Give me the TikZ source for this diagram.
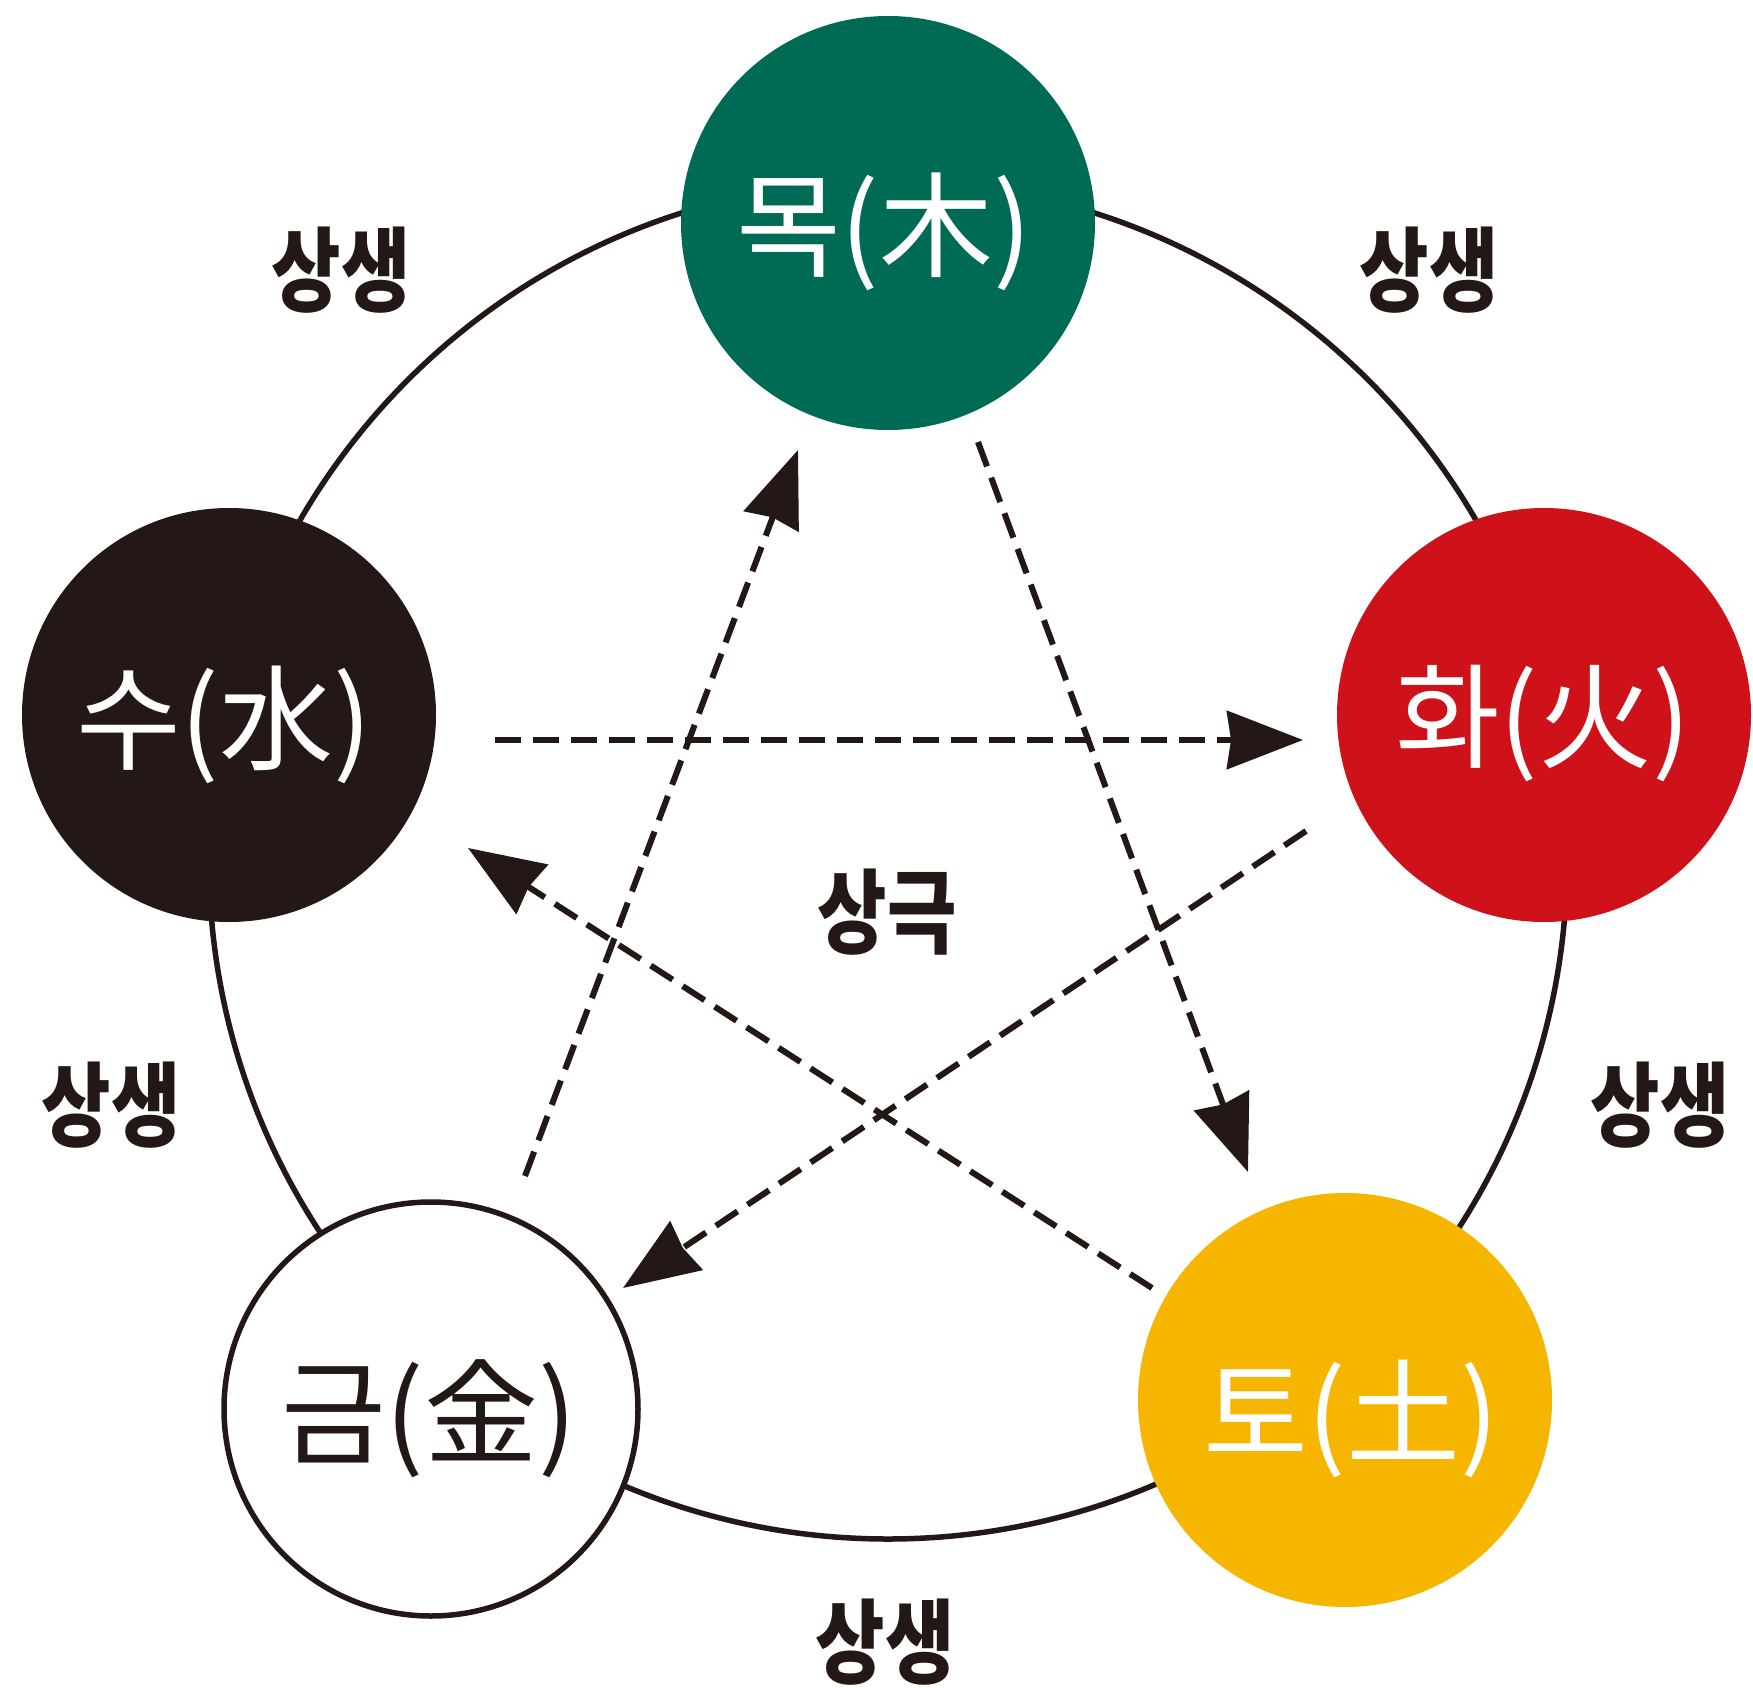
\documentclass[tikz,border=0pt]{standalone}
\usepackage{fontspec}
\usetikzlibrary{arrows.meta}
\newfontfamily\kr{Noto Sans CJK KR}
\newfontfamily\krlab{Noto Sans CJK KR}[FakeStretch=0.82]
\definecolor{ink}{RGB}{35,24,21}
\definecolor{wood}{RGB}{0,107,84}
\definecolor{fire}{RGB}{207,18,26}
\definecolor{earth}{RGB}{246,182,0}
\tikzset{
  elem/.style={circle, inner sep=0pt, minimum size=414pt},
  elemtext/.style={font=\kr\fontsize{114}{114}\selectfont, inner sep=0pt},
  sangsaeng/.style={font=\krlab\bfseries\fontsize{92}{92}\selectfont, text=ink, inner sep=0pt},
  geuk/.style={draw=ink, line width=6pt, dash pattern=on 26pt off 12pt,
    -{Stealth[length=76pt, width=58pt, inset=4pt]}},
}
\begin{document}
\begin{tikzpicture}[x=1pt, y=-1pt]
\useasboundingbox (0,0) rectangle (1753,1688);
\fill[white] (0,0) rectangle (1753,1688);
% outer cycle
\node[circle, draw=ink, line width=5.5pt, minimum size=1358pt, inner sep=0pt] (ring) at (888,860) {};
% elements
\node[elem, fill=wood] (mok) at (888,223) {};
\node[elem, fill=fire] (hwa) at (1544,715) {};
\node[elem, fill=ink] (su) at (229,715) {};
\node[elem, fill=white, draw=ink, line width=5.5pt] (geum) at (431,1409) {};
\node[elem, fill=earth] (to) at (1345,1400) {};
\node[elemtext, text=white] (mokT) at (884,232) {목(木)};
\node[elemtext, text=white] (hwaT) at (1543,724) {화(火)};
\node[elemtext, text=white] (suT) at (224,725) {수(水)};
\node[elemtext, text=ink] (geumT) at (429,1419) {금(金)};
\node[elemtext, text=white] (toT) at (1351,1419) {토(土)};
% sanggeuk arrow ends
\coordinate (suS) at (495,740);   \coordinate (hwaE) at (1303,740);
\coordinate (mokS) at (978,442);  \coordinate (toE) at (1248,1172);
\coordinate (hwaS) at (1306,831); \coordinate (geumE) at (623,1288);
\coordinate (toS) at (1152,1288); \coordinate (suE) at (468,848);
\coordinate (geumS) at (525,1176);\coordinate (mokE) at (798,450);
\draw[geuk] (suS) -- (hwaE);
\draw[geuk] (mokS) -- (toE);
\draw[geuk] (hwaS) -- (geumE);
\draw[geuk] (toS) -- (suE);
\draw[geuk] (geumS) -- (mokE);
% labels
\node[sangsaeng] (l1) at (341,270) {상생};
\node[sangsaeng] (l2) at (1429,270) {상생};
\node[sangsaeng] (l3) at (111,1105) {상생};
\node[sangsaeng] (l4) at (1660,1105) {상생};
\node[sangsaeng] (l5) at (885,1642) {상생};
\node[sangsaeng] (l6) at (887,912) {상극};
\end{tikzpicture}
\end{document}
